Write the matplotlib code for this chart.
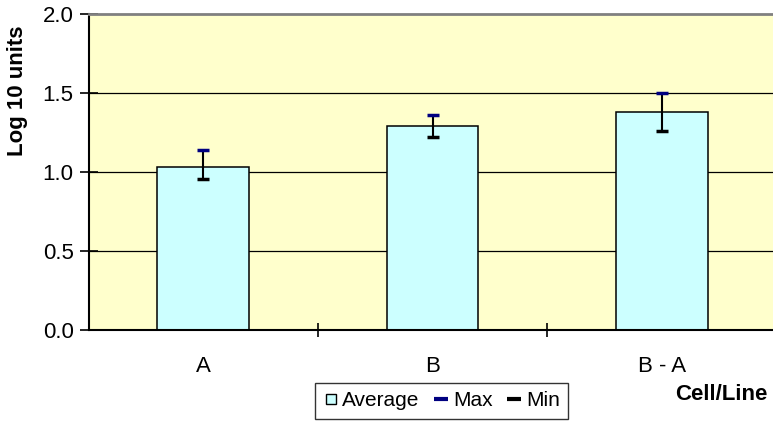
import numpy as np
import matplotlib.pyplot as plt
from matplotlib.lines import Line2D

plt.rcParams['font.family'] = ['Liberation Sans', 'DejaVu Sans']

CATEGORIES = ['A', 'B', 'B - A']
AVERAGE = [1.03, 1.29, 1.38]
MAXIMUM = [1.14, 1.36, 1.50]
MINIMUM = [0.955, 1.22, 1.26]

fig = plt.figure(figsize=(7.73, 4.21), dpi=100)
ax = fig.add_axes([88.5 / 773, 1 - 330 / 421, 688 / 773, (330 - 14.3) / 421])
ax.set_facecolor('#FFFFCC')

x = np.arange(len(CATEGORIES))

# lineas de la grilla
for g in [0.5, 1.0, 1.5]:
    ax.axhline(g, color='black', linewidth=0.9, zorder=1)

ax.bar(x, AVERAGE, width=0.40, color='#CCFFFF', edgecolor='black',
       linewidth=1.1, zorder=2)
ax.vlines(x, MINIMUM, MAXIMUM, color='black', linewidth=1.5, zorder=3)
ax.plot(x, MAXIMUM, linestyle='none', marker='_', markersize=9,
        markeredgewidth=2.5, color='#000080', zorder=4)
ax.plot(x, MINIMUM, linestyle='none', marker='_', markersize=9,
        markeredgewidth=2.5, color='black', zorder=4)

ax.set_xlim(-0.5, 2.5)
ax.set_ylim(0, 2.0)
ax.set_yticks([0, 0.5, 1.0, 1.5, 2.0])
ax.set_yticklabels(['0.0', '0.5', '1.0', '1.5', '2.0'])
ax.tick_params(axis='y', direction='inout', length=13, width=1.2, pad=4.3,
               labelsize=16)

# marcas del eje x entre categorias, etiquetas en el centro
ax.set_xticks([0.5, 1.5])
ax.set_xticklabels([])
ax.tick_params(axis='x', which='major', direction='inout', length=10, width=1.2)
ax.set_xticks(x, minor=True)
ax.set_xticklabels(CATEGORIES, minor=True)
ax.tick_params(axis='x', which='minor', length=0, pad=19, labelsize=16)

ax.spines['top'].set_color('#808080')
ax.spines['top'].set_linewidth(2)
ax.spines['right'].set_visible(False)
ax.spines['left'].set_linewidth(1.5)
ax.spines['bottom'].set_linewidth(1.5)

ax.set_ylabel('Log 10 units', fontweight='bold', fontsize=16)
ax.yaxis.set_label_coords((18 - 88.5) / 688, (330 - 91) / (330 - 14.3))
ax.yaxis.label.set_va('center')

fig.text(768 / 773, 1 - 395 / 421, 'Cell/Line', fontweight='bold',
         fontsize=16, ha='right', va='center')

handles = [
    Line2D([], [], linestyle='none', marker='s', markersize=7,
           markerfacecolor='#CCFFFF', markeredgecolor='black',
           markeredgewidth=1.0),
    Line2D([], [], linestyle='none', marker='_', markersize=10,
           markeredgewidth=3, color='#000080'),
    Line2D([], [], linestyle='none', marker='_', markersize=10,
           markeredgewidth=3, color='black'),
]
leg = fig.legend(handles, ['Average', 'Max', 'Min'], loc='upper left',
                 bbox_to_anchor=(315 / 773, 1 - 383 / 421), ncol=3,
                 frameon=True, fancybox=False, edgecolor='black', fontsize=15,
                 handlelength=0.7, handletextpad=0.2, columnspacing=0.7,
                 borderpad=0.4, borderaxespad=0)
leg.get_frame().set_linewidth(1.0)

plt.savefig('out.png', dpi=100)
